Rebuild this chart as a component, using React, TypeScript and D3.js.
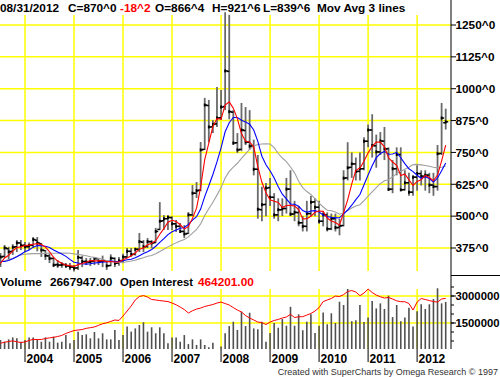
import React, { useEffect } from 'react';
import * as d3 from 'd3';

// Monthly bars, Jul 2003 .. Aug 2012
const startMonth = new Date(2003, 6, 1);
const endMonth = new Date(2012, 8, 1);

const opens = [
  312, 342, 372, 362, 380, 395,
  386, 380, 386, 405, 392, 365, 344, 334, 310, 308, 310, 304,
  300, 297, 336, 322, 320, 323, 333, 322, 325, 306, 334, 316,
  326, 340, 362, 351, 370, 398, 381, 400, 396, 448, 482, 490,
  494, 470, 460, 440, 432, 505, 590, 602, 762, 934, 850, 862,
  886, 930, 1068, 908, 788, 762, 836, 790, 776, 684, 525, 546,
  612, 574, 505, 525, 530, 606, 508, 514, 474, 460, 510, 556,
  535, 480, 505, 450, 490, 455, 463, 650, 692, 705, 676, 686,
  794, 838, 776, 752, 794, 764, 606, 686, 742, 604, 631, 594,
  653, 667, 656, 661, 622, 616, 746, 866.5,
];
const highs = [
  355, 387, 380, 390, 406, 406,
  399, 397, 418, 418, 395, 367, 355, 338, 328, 320, 316, 316,
  308, 367, 345, 336, 336, 340, 336, 345, 328, 350, 338, 340,
  352, 375, 375, 375, 434, 406, 414, 406, 454, 555, 504, 504,
  500, 485, 473, 465, 516, 622, 634, 791, 964, 956, 877, 1007,
  995, 1300, 1290, 916, 826, 944, 928, 916, 800, 740, 615, 630,
  650, 590, 570, 570, 650, 680, 560, 540, 500, 560, 580, 570,
  560, 520, 515, 510, 510, 490, 680, 790, 750, 730, 750, 810,
  860, 900, 820, 830, 850, 770, 720, 770, 770, 680, 670, 660,
  700, 680, 680, 670, 670, 779, 944, 921.75,
];
const lows = [
  300, 336, 330, 348, 359, 367,
  359, 367, 375, 362, 340, 328, 316, 300, 297, 297, 297, 289,
  283, 289, 300, 308, 304, 308, 308, 300, 289, 304, 300, 305,
  315, 336, 340, 345, 359, 359, 375, 375, 395, 445, 446, 446,
  446, 438, 434, 414, 430, 500, 571, 598, 760, 790, 826, 850,
  877, 916, 880, 779, 748, 755, 779, 760, 660, 490, 480, 500,
  540, 490, 480, 500, 510, 500, 480, 460, 440, 440, 500, 500,
  470, 460, 440, 445, 440, 425, 460, 640, 650, 640, 640, 680,
  770, 730, 690, 740, 720, 600, 590, 660, 600, 600, 580, 580,
  600, 620, 600, 590, 580, 600, 740, 839.75,
];
const closes = [
  340, 375, 360, 378, 395, 385,
  380, 385, 408, 395, 367, 345, 334, 308, 308, 310, 305, 300,
  296, 338, 322, 320, 322, 334, 322, 325, 305, 335, 315, 325,
  340, 362, 350, 370, 400, 380, 400, 395, 440, 480, 490, 495,
  470, 460, 440, 430, 505, 590, 600, 760, 936, 850, 860, 885,
  928, 1070, 910, 787, 760, 838, 791, 775, 684, 527, 545, 610,
  574, 505, 525, 530, 606, 508, 515, 474, 460, 510, 555, 535,
  480, 505, 450, 490, 455, 462, 649, 690, 705, 675, 686, 794,
  838, 777, 752, 795, 764, 605, 686, 742, 603, 631, 594, 653,
  667, 657, 661, 622, 616, 745, 885, 870,
];
// closes of the 17 months before the visible window (Feb 2002 .. Jun 2003), used by the moving averages
const priorCloses = [280, 283, 275, 272, 285, 325, 355, 395, 385, 375, 325, 318, 322, 300, 292, 318, 310];

// volume in millions of contracts
const volumes = [
  0.56, 0.46, 0.59, 0.70, 0.65, 0.46,
  0.56, 0.70, 0.70, 0.59, 0.46, 0.70, 0.46, 0.74, 0.41, 0.46, 0.83, 0.37,
  0.56, 1.02, 0.83, 0.87, 0.65, 1.00, 0.65, 0.93, 0.59, 0.59, 1.11, 0.56,
  0.83, 1.30, 1.02, 1.20, 1.39, 1.54, 1.02, 1.26, 0.93, 1.26, 0.93, 0.37,
  0.70, 0.70, 0.46, 0.83, 0.33, 0.59, 0.28, 0.59, 0.28, 0.15, 0.40, 0.05,
  0.20, 0.93, 1.33, 1.57, 1.11, 2.13, 1.33, 2.07, 1.20, 1.15, 1.57, 0.46,
  0.94, 1.50, 1.24, 1.72, 1.35, 2.40, 1.35, 1.98, 1.10, 1.57, 1.98, 0.94,
  1.35, 2.09, 1.43, 2.04, 1.50, 2.68, 2.50, 3.39, 1.60, 1.65, 2.50, 1.55,
  1.80, 2.72, 2.31, 2.59, 2.28, 3.02, 1.83, 2.50, 1.60, 1.80, 2.35, 1.30,
  2.15, 2.54, 2.28, 2.54, 2.83, 3.43, 2.59, 2.667947,
];
// open interest in thousands of contracts
const openInterest = [
  98, 107, 112, 118, 110, 104,
  109, 121, 130, 128, 129, 137, 142, 147, 153, 162, 178, 190,
  202, 206, 210, 220, 225, 231, 244, 257, 265, 276, 288, 284,
  320, 361, 402, 451, 479, 487, 475, 455, 451, 446, 442, 438,
  426, 412, 393, 373, 345, 363, 377, 385, 398, 406, 414, 426,
  434, 422, 410, 389, 369, 353, 324, 304, 288, 271, 267, 251,
  271, 284, 292, 304, 312, 334, 308, 314, 315, 328, 341, 361,
  389, 438, 451, 463, 483, 479, 495, 520, 528, 516, 486, 508,
  540, 512, 491, 477, 467, 471, 459, 444, 437, 437, 422, 369,
  434, 463, 455, 446, 438, 434, 459, 464.201,
];

const priceTicks = [375, 500, 625, 750, 875, 1000, 1125, 1250];
const volumeTicks = [1500000, 3000000];
const volumeMinorTicks = [500000, 1000000, 1500000, 2000000, 2500000, 3000000, 3500000];
const maLengths = [18, 9, 4];
const maColors = ['#a0a0a0', '#0000ff', '#ff0000'];

const FONT = 'Liberation Sans, Arial, Helvetica, sans-serif';
const GRID = '#ffff00';

export default function App() {
  useEffect(() => {
    document.body.style.margin = '0';
  }, []);

  const months = d3.timeMonth.range(startMonth, endMonth);
  const n = months.length;
  const x = d3.scaleLinear().domain([0, n - 1]).range([0.5, 445.7]);
  const y = d3.scaleLinear().domain([375, 1250]).range([248, 25]);
  const yv = d3.scaleLinear().domain([0, 3000000]).range([350, 296]);
  const yoi = d3.scaleLinear().domain([0, 600]).range([355.3, 281.7]);

  const all = priorCloses.concat(closes);
  const off = priorCloses.length;
  const maSeries = maLengths.map((len) =>
    closes.map((_, i) => d3.mean(all.slice(i + off - len + 1, i + off + 1)) as number)
  );
  const line = d3
    .line<number>()
    .x((_, i) => x(i))
    .y((d) => y(d));
  const oiLine = d3
    .line<number>()
    .x((_, i) => x(i))
    .y((d) => yoi(d));

  const yearIdx = months.map((m, i) => (m.getMonth() === 0 ? i : -1)).filter((i) => i >= 0);
  const axisX = 451;

  return (
    <div style={{ position: 'absolute', left: 0, top: 0 }}>
      <svg width={500} height={377} style={{ display: 'block', background: '#fff' }} fontFamily={FONT}>
        {/* price grid */}
        {priceTicks.map((t) => (
          <line key={'hg' + t} x1={0} x2={axisX} y1={y(t)} y2={y(t)} stroke={GRID} strokeWidth={1.5} />
        ))}
        {yearIdx.map((i) => (
          <line key={'vg' + i} x1={x(i)} x2={x(i)} y1={15} y2={271} stroke={GRID} strokeWidth={1.5} />
        ))}
        {/* volume grid */}
        {volumeTicks.map((t) => (
          <line key={'vhg' + t} x1={0} x2={axisX} y1={yv(t)} y2={yv(t)} stroke={GRID} strokeWidth={1.5} />
        ))}
        {yearIdx.map((i) => (
          <line key={'vvg' + i} x1={x(i)} x2={x(i)} y1={289} y2={349} stroke={GRID} strokeWidth={1.5} />
        ))}

        {/* price bars */}
        {closes.map((c, i) => (
          <g key={'b' + i}>
            <line x1={x(i)} x2={x(i)} y1={y(highs[i])} y2={y(lows[i])} stroke="#6a6a6a" strokeWidth={1.8} />
            <line x1={x(i) - 2.5} x2={x(i)} y1={y(opens[i])} y2={y(opens[i])} stroke="#000" strokeWidth={1.5} />
            <line x1={x(i)} x2={x(i) + 2.5} y1={y(c)} y2={y(c)} stroke="#000" strokeWidth={1.5} />
            <line x1={x(i)} x2={x(i)} y1={y(c) - 1.5} y2={y(c) + 1.5} stroke="#000" strokeWidth={1.8} />
          </g>
        ))}
        {/* moving averages */}
        {maSeries.map((s, k) => (
          <path key={'ma' + k} d={line(s) || ''} fill="none" stroke={maColors[k]} strokeWidth={1.1} />
        ))}

        {/* volume bars */}
        {volumes.map((v, i) => (
          <line key={'v' + i} x1={x(i)} x2={x(i)} y1={yv(v * 1e6)} y2={349} stroke="#505050" strokeWidth={1.6} />
        ))}
        <path d={oiLine(openInterest) || ''} fill="none" stroke="#ff0000" strokeWidth={1} />

        {/* right axis */}
        <line x1={axisX} x2={axisX} y1={0} y2={349} stroke="#000" strokeWidth={1} />
        <line x1={axisX} x2={500} y1={275.5} y2={275.5} stroke="#000" strokeWidth={1} />
        {priceTicks.map((t) => (
          <g key={'pt' + t}>
            <line x1={axisX} x2={axisX + 5} y1={y(t)} y2={y(t)} stroke="#000" strokeWidth={1} />
            <text x={axisX + 4.5} y={y(t)} dy="0.36em" fontSize={11.8} fontWeight="bold" fill="#000">
              {t + '^0'}
            </text>
          </g>
        ))}
        {volumeMinorTicks.map((t) => (
          <line key={'vmt' + t} x1={axisX} x2={axisX + 3} y1={yv(t)} y2={yv(t)} stroke="#000" strokeWidth={1} />
        ))}
        {volumeTicks.map((t) => (
          <g key={'vt' + t}>
            <line x1={axisX} x2={axisX + 5} y1={yv(t)} y2={yv(t)} stroke="#000" strokeWidth={1} />
            <text x={axisX + 4.5} y={yv(t)} dy="0.36em" fontSize={11.8} fontWeight="bold" fill="#000"
              textLength={44} lengthAdjust="spacingAndGlyphs">
              {String(t)}
            </text>
          </g>
        ))}

        {/* time axis */}
        {yearIdx.map((i) => (
          <g key={'yt' + i}>
            <line x1={x(i)} x2={x(i)} y1={349} y2={362} stroke="#000" strokeWidth={1} />
            <text x={x(i) + 1.5} y={363} fontSize={12} fontWeight="bold" fill="#000">
              {months[i].getFullYear()}
            </text>
          </g>
        ))}

        {/* headers */}
        <g fontSize={11.8} fontWeight="bold">
          <text x={0} y={11.5} fill="#000">08/31/2012</text>
          <text x={68} y={11.5} fill="#000">C=870^0</text>
          <text x={120} y={11.5} fill="#ff0000">-18^2</text>
          <text x={155} y={11.5} fill="#000">O=866^4</text>
          <text x={212} y={11.5} fill="#000">H=921^6</text>
          <text x={263} y={11.5} fill="#000">L=839^6</text>
          <text x={317} y={11.5} fill="#000">Mov Avg 3 lines</text>

          <text x={0} y={286} fill="#000">Volume</text>
          <text x={50} y={286} fill="#000">2667947.00</text>
          <text x={120} y={286} fill="#000" textLength={73} lengthAdjust="spacingAndGlyphs">Open Interest</text>
          <text x={198} y={286} fill="#ff0000">464201.00</text>
        </g>
        <text x={498} y={374.5} textAnchor="end" fontSize={9} fill="#333">
          Created with SuperCharts by Omega Research © 1997
        </text>
      </svg>
    </div>
  );
}
